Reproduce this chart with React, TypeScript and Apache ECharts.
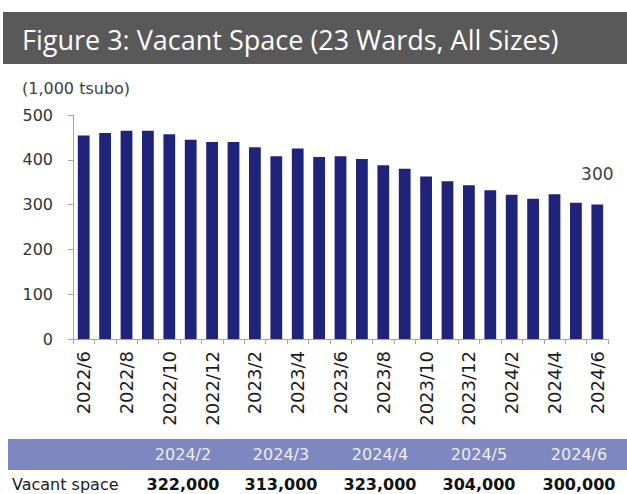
import React, { useEffect, useRef } from "react";
import * as echarts from "echarts";

const months = [
  "2022/6", "2022/7", "2022/8", "2022/9", "2022/10", "2022/11", "2022/12",
  "2023/1", "2023/2", "2023/3", "2023/4", "2023/5", "2023/6", "2023/7",
  "2023/8", "2023/9", "2023/10", "2023/11", "2023/12", "2024/1", "2024/2",
  "2024/3", "2024/4", "2024/5", "2024/6",
];
const vacantSpace = [
  454, 460, 465, 465, 457, 445, 440, 440, 428, 408, 425, 406, 408, 402,
  388, 380, 363, 352, 343, 332, 322, 313, 323, 304, 300,
];
const yTicks = [0, 100, 200, 300, 400, 500];
const tableMonths = ["2024/2", "2024/3", "2024/4", "2024/5", "2024/6"];
const tableValues = [322000, 313000, 323000, 304000, 300000];
const tableRowLabel = "Vacant space";
const titleText = "Figure 3: Vacant Space (23 Wards, All Sizes)";
const unitText = "(1,000 tsubo)";

const FONT = "DejaVu Sans";

export default function App() {
  const ref = useRef<HTMLDivElement>(null);
  useEffect(() => {
    if (!ref.current) return;
    const chart = echarts.init(ref.current, null, { renderer: "svg" });
    const colX = [183, 281, 380, 479, 579];
    const graphics: any[] = [
      {
        type: "rect",
        shape: { x: 3, y: 12, width: 624, height: 52 },
        style: { fill: "#595959" },
        silent: true,
      },
      {
        type: "text",
        x: 22,
        y: 39,
        style: {
          text: titleText,
          fill: "#ffffff",
          font: "27px 'Open Sans'",
          textVerticalAlign: "middle",
        },
      },
      {
        type: "text",
        x: 22,
        y: 88,
        style: {
          text: unitText,
          fill: "#404040",
          font: `16px '${FONT}'`,
          textVerticalAlign: "middle",
        },
      },
      {
        type: "rect",
        shape: { x: 8, y: 439, width: 619, height: 31 },
        style: { fill: "#7f87c1" },
        silent: true,
      },
      {
        type: "text",
        x: 12,
        y: 484,
        style: {
          text: tableRowLabel,
          fill: "#1a1a1a",
          font: `16px '${FONT}'`,
          textVerticalAlign: "middle",
        },
      },
    ];
    tableMonths.forEach((m, i) => {
      graphics.push({
        type: "text",
        x: colX[i],
        y: 454,
        style: {
          text: m,
          fill: "#eeeef4",
          font: `16px '${FONT}'`,
          textAlign: "center",
          textVerticalAlign: "middle",
        },
      });
      graphics.push({
        type: "text",
        x: colX[i],
        y: 484,
        style: {
          text: tableValues[i].toLocaleString("en-US"),
          fill: "#111111",
          font: `bold 16px '${FONT}'`,
          textAlign: "center",
          textVerticalAlign: "middle",
        },
      });
    });

    const data = vacantSpace.map((v, i) =>
      i === vacantSpace.length - 1
        ? {
            value: v,
            label: {
              show: true,
              position: "top",
              distance: 22,
              fontSize: 17,
              fontFamily: FONT,
              color: "#404040",
            },
          }
        : v
    );

    chart.setOption({
      animation: false,
      textStyle: { fontFamily: FONT },
      grid: { left: 73, right: 19, top: 115, bottom: 155, containLabel: false },
      xAxis: {
        type: "category",
        data: months,
        boundaryGap: true,
        axisLine: { lineStyle: { color: "#a6a6a6" } },
        axisTick: { show: true, interval: 0, length: 5, lineStyle: { color: "#a6a6a6" } },
        axisLabel: {
          interval: 1,
          rotate: 90,
          fontSize: 18,
          margin: 12,
          color: "#1a1a1a",
          fontFamily: FONT,
        },
      },
      yAxis: {
        type: "value",
        min: yTicks[0],
        max: yTicks[yTicks.length - 1],
        interval: 100,
        splitLine: { show: false },
        axisLine: { show: true, lineStyle: { color: "#a6a6a6" } },
        axisTick: { show: true, length: 5, lineStyle: { color: "#a6a6a6" } },
        axisLabel: { fontSize: 16, margin: 20, color: "#333333", fontFamily: FONT },
      },
      series: [
        {
          type: "bar",
          data,
          barWidth: "55%",
          itemStyle: { color: "#1f237a" },
        },
      ],
      graphic: graphics,
    });
    return () => chart.dispose();
  }, []);
  return (
    <div
      ref={ref}
      style={{ position: "absolute", left: 0, top: 0, width: 627, height: 494, background: "#fff" }}
    />
  );
}
